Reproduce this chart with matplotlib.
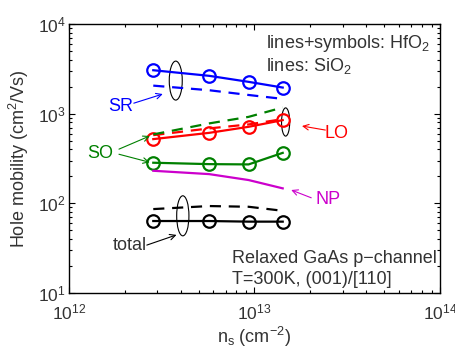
import matplotlib
matplotlib.use("Agg")
import matplotlib.pyplot as plt
from matplotlib.patches import Ellipse
from matplotlib.ticker import LogLocator, NullFormatter

plt.rcParams['font.family'] = ['Liberation Sans', 'DejaVu Sans']
plt.rcParams['mathtext.fontset'] = 'custom'
plt.rcParams['mathtext.rm'] = 'Liberation Sans'
plt.rcParams['mathtext.it'] = 'Liberation Sans:italic'
plt.rcParams['mathtext.default'] = 'regular'

# data
ns = [2.85e12, 5.7e12, 9.3e12, 1.42e13]
sr_hfo2 = [3060, 2650, 2270, 1960]
sr_sio2 = [2060, 1830, 1620, 1465]
lo_hfo2 = [521, 612, 715, 849]
lo_sio2 = [577, 686, 760, 871]
so_hfo2 = [284, 274, 272, 366]
so_sio2 = [588, 780, 923, 1175]
np_sio2 = [231, 212, 182, 147]
tot_hfo2 = [63.5, 63.5, 62.5, 62.5]
tot_sio2 = [86.3, 93.3, 91.6, 82.6]

txt = '#333333'
fig = plt.figure(figsize=(4.56, 3.5), dpi=100)
ax = fig.add_axes([0.151, 0.163, 0.814, 0.768])
ax.set_xscale('log')
ax.set_yscale('log')
ax.set_xlim(1e12, 1e14)
ax.set_ylim(1e1, 1e4)

lw = 1.6
ms = 9
mew = 1.6
dash = (0, (5, 3.5))
for y, c in [(sr_hfo2, 'blue'), (lo_hfo2, 'red'), (so_hfo2, 'green'), (tot_hfo2, 'black')]:
    ax.plot(ns, y, '-', color=c, lw=lw, marker='o', ms=ms, mfc='none', mec=c, mew=mew)
for y, c in [(sr_sio2, 'blue'), (lo_sio2, 'red'), (so_sio2, 'green'), (tot_sio2, 'black')]:
    ax.plot(ns, y, color=c, lw=lw, ls=dash)
ax.plot(ns, np_sio2, color='#cc00cc', lw=lw)

# ellipses (axes fraction)
for cx, cy, w, h in [(0.288, 0.790, 0.035, 0.145), (0.584, 0.636, 0.022, 0.105), (0.307, 0.287, 0.033, 0.149)]:
    ax.add_patch(Ellipse((cx, cy), w, h, transform=ax.transAxes, fill=False, ec='black', lw=0.8))

fs = 13
ap = lambda c: dict(arrowstyle='->', color=c, lw=0.8, shrinkA=0, shrinkB=0)
ax.annotate('', xy=(0.253, 0.740), xytext=(0.175, 0.706), xycoords='axes fraction', arrowprops=ap('blue'))
ax.text(0.140, 0.695, 'SR', transform=ax.transAxes, color='blue', fontsize=fs, ha='center', va='center')
ax.annotate('', xy=(0.218, 0.584), xytext=(0.135, 0.535), xycoords='axes fraction', arrowprops=ap('green'))
ax.annotate('', xy=(0.218, 0.486), xytext=(0.135, 0.516), xycoords='axes fraction', arrowprops=ap('green'))
ax.text(0.085, 0.518, 'SO', transform=ax.transAxes, color='green', fontsize=fs, ha='center', va='center')
ax.annotate('', xy=(0.628, 0.621), xytext=(0.691, 0.606), xycoords='axes fraction', arrowprops=ap('red'))
ax.text(0.720, 0.594, 'LO', transform=ax.transAxes, color='red', fontsize=fs, ha='center', va='center')
ax.annotate('', xy=(0.599, 0.383), xytext=(0.653, 0.354), xycoords='axes fraction', arrowprops=ap('#cc00cc'))
ax.text(0.698, 0.346, 'NP', transform=ax.transAxes, color='#cc00cc', fontsize=fs, ha='center', va='center')
ax.annotate('', xy=(0.290, 0.216), xytext=(0.210, 0.178), xycoords='axes fraction', arrowprops=ap('black'))
ax.text(0.164, 0.175, 'total', transform=ax.transAxes, color=txt, fontsize=fs, ha='center', va='center')

ax.text(0.530, 0.913, 'lines+symbols: HfO$_2$', transform=ax.transAxes, color=txt, fontsize=fs, va='baseline')
ax.text(0.530, 0.825, 'lines: SiO$_2$', transform=ax.transAxes, color=txt, fontsize=fs, va='baseline')
ax.text(0.439, 0.110, 'Relaxed GaAs p\u2212channel', transform=ax.transAxes, color=txt, fontsize=fs, va='baseline')
ax.text(0.439, 0.032, 'T=300K, (001)/[110]', transform=ax.transAxes, color=txt, fontsize=fs, va='baseline')

ax.set_xlabel('n$_s$ (cm$^{-2}$)', fontsize=fs, color=txt, labelpad=2)
ax.set_ylabel('Hole mobility (cm$^2$/Vs)', fontsize=fs, color=txt, labelpad=5)
ax.tick_params(which='both', direction='in', top=True, right=True, labelsize=12.5, labelcolor=txt, width=0.8)
ax.tick_params(axis='x', which='major', pad=7)
ax.tick_params(axis='y', which='major', pad=2)
ax.tick_params(which='major', length=4)
ax.tick_params(which='minor', length=2)
ax.xaxis.set_minor_locator(LogLocator(base=10, subs=range(2, 10)))
ax.yaxis.set_minor_locator(LogLocator(base=10, subs=range(2, 10)))
ax.xaxis.set_minor_formatter(NullFormatter())
ax.yaxis.set_minor_formatter(NullFormatter())
for s in ax.spines.values():
    s.set_linewidth(1.0)

fig.savefig('out.png', dpi=100)
